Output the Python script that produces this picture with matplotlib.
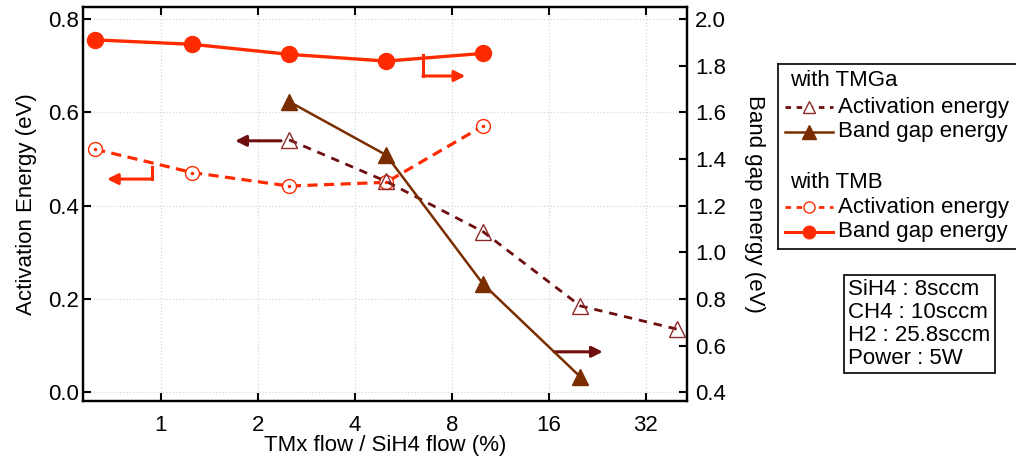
import matplotlib
matplotlib.use('Agg')
import matplotlib.pyplot as plt
from matplotlib.lines import Line2D

plt.rcParams['font.family'] = ['Liberation Sans', 'DejaVu Sans']
plt.rcParams['font.size'] = 16

# TMx flow / SiH4 flow (%)
tmb_x = [0.625, 1.25, 2.5, 5, 10]
tmga_x = [2.5, 5, 10, 20, 40]

# activation energy (eV), left axis
tmb_ea = [0.521, 0.471, 0.442, 0.450, 0.571]
tmga_ea = [0.541, 0.452, 0.344, 0.185, 0.135]

# band gap energy (eV), right axis
tmb_eg = [1.911, 1.892, 1.849, 1.820, 1.853]
tmga_eg = [1.646, 1.417, 0.863, 0.466]

x_ticks = [1, 2, 4, 8, 16, 32]
info = 'SiH4 : 8sccm\nCH4 : 10sccm\nH2 : 25.8sccm\nPower : 5W'

c_tmb = '#ff2b00'
c_tmga_eg = '#7a2e00'
c_tmga_ea = '#6e0e0e'
c_tri = '#8c2a2a'

fig = plt.figure(figsize=(10.16, 4.62), dpi=100)
ax = fig.add_axes([83/1016, 1-401/462, (687-83)/1016, (401-7)/462])
ax2 = ax.twinx()

ax.set_xscale('log', base=2)
ax.set_xlim(0.573, 42.9)
ax.set_ylim(-0.019, 0.826)
ax2.set_ylim(0.362, 2.052)
ax.set_xticks(x_ticks)
ax.set_xticklabels([str(t) for t in x_ticks])
ax.xaxis.set_minor_locator(matplotlib.ticker.NullLocator())
ax.set_yticks([0.0, 0.2, 0.4, 0.6, 0.8])
ax.set_yticklabels(['0.0', '0.2', '0.4', '0.6', '0.8'])
ax2.set_yticks([0.4, 0.6, 0.8, 1.0, 1.2, 1.4, 1.6, 1.8, 2.0])
ax2.set_yticklabels(['%.1f' % v for v in ax2.get_yticks()])

ax.grid(True, color='#d8d8d8', linestyle=':', linewidth=0.9)
ax.tick_params(axis='x', direction='in', top=True, length=6, width=1.5, pad=10)
ax.tick_params(axis='y', direction='in', length=6, width=1.5, pad=3)
ax2.tick_params(axis='y', direction='in', length=6, width=1.5, pad=6)
for a in (ax, ax2):
    for s in a.spines.values():
        s.set_linewidth(1.6)

# activation energies
ax.plot(tmb_x, tmb_ea, color=c_tmb, lw=2.3, ls=(0, (3.2, 2)), marker='o', ms=10,
        mfc='white', mec=c_tmb, mew=1.0, zorder=3)
ax.plot(tmb_x, tmb_ea, ls='none', marker='.', ms=3, color=c_tmb, zorder=4)
ax.plot(tmga_x, tmga_ea, color=c_tmga_ea, lw=2.0, ls=(0, (3, 2.5)), marker='^', ms=11,
        mfc='none', mec=c_tri, mew=1.0, zorder=3)

# band gap energies
ax2.plot(tmb_x, tmb_eg, color=c_tmb, lw=2.4, marker='o', ms=11.5, zorder=3)
ax2.plot(tmga_x[:4], tmga_eg, color=c_tmga_eg, lw=1.8, marker='^', ms=12, zorder=3)

# axis-indicator arrows
ap = dict(arrowstyle='-|>', mutation_scale=16, lw=2.2, shrinkA=0, shrinkB=0)
ax.plot([0.94, 0.94], [0.483, 0.457], color=c_tmb, lw=2.2)
ax.annotate('', xy=(0.68, 0.457), xytext=(0.94, 0.457),
            arrowprops=dict(ap, color=c_tmb))
ax.plot([6.5, 6.5], [0.723, 0.678], color=c_tmb, lw=2.2)
ax.annotate('', xy=(8.8, 0.678), xytext=(6.5, 0.678),
            arrowprops=dict(ap, color=c_tmb))
ax.annotate('', xy=(1.70, 0.539), xytext=(2.36, 0.539),
            arrowprops=dict(ap, color=c_tmga_ea))
ax.annotate('', xy=(23.5, 0.0865), xytext=(16.6, 0.0865),
            arrowprops=dict(ap, color=c_tmga_ea))

ax.set_ylabel('Activation Energy (eV)', labelpad=8)
ax2.set_ylabel('Band gap energy (eV)', rotation=270, labelpad=28)
ax.set_xlabel('TMx flow / SiH4 flow (%)', labelpad=-1)

# legend panel, drawn in pixel coordinates
lg = fig.add_axes([778/1016, 1-249/462, 250/1016, (249-64)/462])
lg.set_xlim(778, 1028)
lg.set_ylim(249, 64)
lg.set_xticks([])
lg.set_yticks([])
for s in lg.spines.values():
    s.set_linewidth(1.2)
rows = [
    ('with TMGa', 81, None),
    ('Activation energy', 107, dict(color=c_tmga_ea, lw=2.0, ls=(0, (2, 2)), marker='^', ms=9,
                                    mfc='white', mec=c_tri, mew=1.0)),
    ('Band gap energy', 132, dict(color=c_tmga_eg, lw=1.8, marker='^', ms=10)),
    ('with TMB', 182, None),
    ('Activation energy', 207, dict(color=c_tmb, lw=2.0, ls=(0, (2, 2)), marker='o', ms=8,
                                    mfc='white', mec=c_tmb, mew=1.0)),
    ('Band gap energy', 232, dict(color=c_tmb, lw=2.2, marker='o', ms=9)),
]
for label, y, style in rows:
    if style is None:
        lg.text(790, y, label, va='center', ha='left')
    else:
        lg.add_line(Line2D([785, 833], [y, y], **style, markevery=[]))
        lg.plot([809], [y], ls='none', **{k: v for k, v in style.items() if k not in ('ls', 'lw')})
        lg.text(838, y, label, va='center', ha='left')

fig.text(848/1016, 1-324/462, info, va='center', ha='left', linespacing=1.12,
         bbox=dict(boxstyle='square,pad=0.2', fc='white', ec='black', lw=1.2))

fig.savefig('out.png', dpi=100)
